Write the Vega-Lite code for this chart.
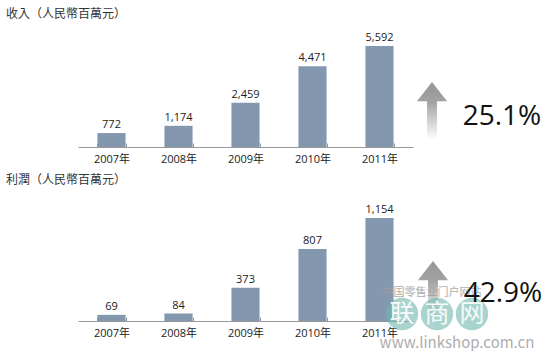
{
  "$schema": "https://vega.github.io/schema/vega-lite/v6.json",
  "padding": {"top": 8, "left": 0, "right": 0, "bottom": 0},
  "background": "white",
  "config": {
    "view": {"stroke": null},
    "font": "Open Sans, Noto Sans CJK TC",
    "concat": {"spacing": 10}
  },
  "datasets": {
    "revenue": [
      {"year": "2007年", "value": 772},
      {"year": "2008年", "value": 1174},
      {"year": "2009年", "value": 2459},
      {"year": "2010年", "value": 4471},
      {"year": "2011年", "value": 5592}
    ],
    "profit": [
      {"year": "2007年", "value": 69},
      {"year": "2008年", "value": 84},
      {"year": "2009年", "value": 373},
      {"year": "2010年", "value": 807},
      {"year": "2011年", "value": 1154}
    ],
    "growth_revenue": [
      {"item": "arrow", "label": ""},
      {"item": "pct", "label": "25.1%"}
    ],
    "growth_profit": [
      {"item": "arrow", "label": ""},
      {"item": "pct", "label": "42.9%"}
    ],
    "watermark_chars": [
      {"char": "联"},
      {"char": "商"},
      {"char": "网"}
    ],
    "watermark_text": [
      {"kind": "tagline", "text": "中国零售业门户网站"},
      {"kind": "url", "text": "www.linkshop.com.cn"}
    ]
  },
  "vconcat": [
    {
      "width": 550,
      "height": 120,
      "title": {"text": "收入（人民幣百萬元）", "anchor": "start", "fontSize": 12, "fontWeight": "normal", "color": "#333333", "offset": 6, "dx": 6},
      "layer": [
        {
          "data": {"name": "revenue"},
          "encoding": {
            "x": {"field": "year", "type": "ordinal", "sort": null,
              "scale": {"range": [78, 413], "paddingInner": 0.58, "paddingOuter": 0.29},
              "axis": {"title": null, "labelAngle": 0, "tickBand": "extent", "tickSize": -4, "labelPadding": 10, "domainColor": "#999999", "tickColor": "#999999", "labelColor": "#222222", "labelFontSize": 11, "grid": false}},
            "y": {"field": "value", "type": "quantitative", "scale": {"domain": [0, 6650], "nice": false}, "axis": null}
          },
          "layer": [
            {"mark": {"type": "bar", "color": "#8398ae"}},
            {"mark": {"type": "text", "baseline": "bottom", "dy": -3, "fontSize": 11, "color": "#222222"},
             "encoding": {"text": {"field": "value", "type": "quantitative", "format": ","}}}
          ]
        },
        {
          "data": {"name": "growth_revenue"},
          "encoding": {
            "x": {"field": "item", "type": "nominal", "scale": {"type": "point", "domain": ["arrow", "pct"], "range": [432, 502], "padding": 0}, "axis": null},
            "y": {"field": "item", "type": "nominal", "scale": {"type": "point", "domain": ["arrow", "pct"], "range": [84, 90], "padding": 0}, "axis": null}
          },
          "layer": [
            {"transform": [{"filter": "datum.item == 'arrow'"}],
             "mark": {"type": "point", "filled": true, "opacity": 1, "strokeWidth": 0, "size": 3364,
               "shape": "M0,-1L0.52,-0.34L0.17,-0.34L0.17,1L-0.17,1L-0.17,-0.34L-0.52,-0.34Z",
               "fill": {"gradient": "linear", "x1": 0, "y1": 0, "x2": 0, "y2": 1,
                 "stops": [{"offset": 0, "color": "#969696"}, {"offset": 0.35, "color": "#a3a3a3"}, {"offset": 1, "color": "#ffffff"}]}}},
            {"transform": [{"filter": "datum.item == 'pct'"}],
             "mark": {"type": "text", "fontSize": 28, "color": "#111111", "baseline": "middle", "align": "center"},
             "encoding": {"text": {"field": "label"}}}
          ]
        }
      ],
      "resolve": {"scale": {"x": "independent", "y": "independent"}}
    },
    {
      "width": 550,
      "height": 128,
      "title": {"text": "利潤（人民幣百萬元）", "anchor": "start", "fontSize": 12, "fontWeight": "normal", "color": "#333333", "offset": 6, "dx": 6},
      "layer": [
        {
          "data": {"name": "profit"},
          "encoding": {
            "x": {"field": "year", "type": "ordinal", "sort": null,
              "scale": {"range": [78, 413], "paddingInner": 0.58, "paddingOuter": 0.29},
              "axis": {"title": null, "labelAngle": 0, "tickBand": "extent", "tickSize": -4, "labelPadding": 10, "domainColor": "#999999", "tickColor": "#999999", "labelColor": "#222222", "labelFontSize": 11, "grid": false}},
            "y": {"field": "value", "type": "quantitative", "scale": {"domain": [0, 1434], "nice": false}, "axis": null}
          },
          "layer": [
            {"mark": {"type": "bar", "color": "#8398ae"}},
            {"mark": {"type": "text", "baseline": "bottom", "dy": -3, "fontSize": 11, "color": "#222222"},
             "encoding": {"text": {"field": "value", "type": "quantitative", "format": ","}}}
          ]
        },
        {
          "data": {"name": "growth_profit"},
          "transform": [{"filter": "datum.item == 'arrow'"}],
          "encoding": {
            "x": {"field": "item", "type": "nominal", "scale": {"type": "point", "domain": ["arrow", "pct"], "range": [433, 503], "padding": 0}, "axis": null},
            "y": {"field": "item", "type": "nominal", "scale": {"type": "point", "domain": ["arrow", "pct"], "range": [97, 101], "padding": 0}, "axis": null}
          },
          "mark": {"type": "point", "filled": true, "opacity": 1, "strokeWidth": 0, "size": 3364,
            "shape": "M0,-1L0.52,-0.34L0.17,-0.34L0.17,1L-0.17,1L-0.17,-0.34L-0.52,-0.34Z",
            "fill": {"gradient": "linear", "x1": 0, "y1": 0, "x2": 0, "y2": 1,
              "stops": [{"offset": 0, "color": "#969696"}, {"offset": 0.35, "color": "#a3a3a3"}, {"offset": 1, "color": "#ffffff"}]}}
        },
        {
          "data": {"name": "watermark_chars"},
          "encoding": {
            "x": {"field": "char", "type": "nominal", "sort": null, "scale": {"type": "point", "domain": ["联", "商", "网"], "range": [402, 472], "padding": 0}, "axis": null},
            "y": {"field": "char", "type": "nominal", "sort": null, "scale": {"type": "point", "domain": ["联", "商", "网"], "range": [121, 121], "padding": 0}, "axis": null}
          },
          "layer": [
            {"mark": {"type": "point", "shape": "circle", "filled": true, "size": 1050, "color": "#6fb8ad", "opacity": 0.6, "strokeWidth": 0}},
            {"mark": {"type": "text", "fontSize": 25, "color": "#ffffff", "opacity": 0.9, "baseline": "middle", "align": "center", "font": "Noto Sans CJK SC"},
             "encoding": {"text": {"field": "char"}}}
          ]
        },
        {
          "data": {"name": "watermark_text"},
          "encoding": {
            "x": {"field": "kind", "type": "nominal", "sort": null, "scale": {"type": "point", "domain": ["tagline", "url"], "range": [432, 457], "padding": 0}, "axis": null},
            "y": {"field": "kind", "type": "nominal", "sort": null, "scale": {"type": "point", "domain": ["tagline", "url"], "range": [100, 150], "padding": 0}, "axis": null},
            "text": {"field": "text"},
            "size": {"field": "kind", "type": "nominal", "scale": {"domain": ["tagline", "url"], "range": [11, 15]}, "legend": null}
          },
          "mark": {"type": "text", "color": "#a0a0a0", "opacity": 0.85, "baseline": "middle", "align": "center", "font": "Noto Sans CJK SC"}
        },
        {
          "data": {"name": "growth_profit"},
          "transform": [{"filter": "datum.item == 'pct'"}],
          "encoding": {
            "x": {"field": "item", "type": "nominal", "scale": {"type": "point", "domain": ["arrow", "pct"], "range": [433, 503], "padding": 0}, "axis": null},
            "y": {"field": "item", "type": "nominal", "scale": {"type": "point", "domain": ["arrow", "pct"], "range": [97, 101], "padding": 0}, "axis": null},
            "text": {"field": "label"}
          },
          "mark": {"type": "text", "fontSize": 28, "color": "#111111", "baseline": "middle", "align": "center"}
        }
      ],
      "resolve": {"scale": {"x": "independent", "y": "independent", "size": "independent"}}
    }
  ]
}
